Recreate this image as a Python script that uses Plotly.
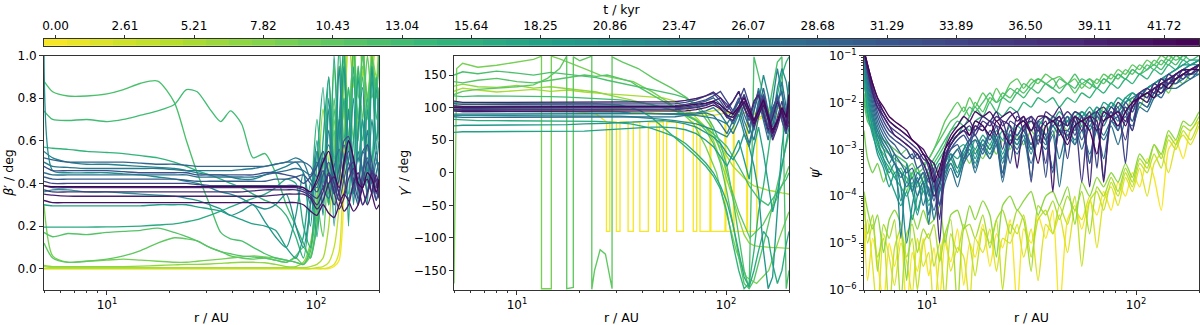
import math
import plotly.graph_objects as go
from plotly.colors import sample_colorscale

# ---------------- data ----------------
# snapshot times (kyr) of the plotted curves
t_kyr = [0.00, 1.74, 3.48, 5.22, 6.95, 8.69, 10.43, 11.30, 12.17, 13.04, 14.78, 16.52, 18.26, 19.99,
         21.73, 23.47, 25.21, 26.95, 28.69, 30.43, 32.16, 33.90, 35.64, 37.38, 39.12, 40.86, 42.60]
dt_snap = 0.8693          # spacing of the snapshots (kyr)
n_snap = 50               # number of colour bins of the colour bar
cbar_tick_labels = ["0.00", "2.61", "5.21", "7.82", "10.43", "13.04", "15.64", "18.25", "20.86",
                    "23.47", "26.07", "28.68", "31.29", "33.89", "36.50", "39.11", "41.72"]

# radius grid for beta' and gamma' (AU)
r_common = [5, 5.5, 6.5, 8, 10, 12, 14.5, 17.5, 21, 24, 27, 31, 35, 39, 44, 50, 57, 64, 72, 80,
            87, 94, 101, 108, 115, 122, 129, 136, 143, 151, 159, 167, 176, 185, 194, 200]

# ---- beta' (deg) ----
beta_t00 = [0,0,0,0,0,0,0,0,0,0, 0,0,0,0,0,0,0,0,0,0, 0,0,0,0,0,0.01,0.04,0.35,1.2,1.3, 1.1,1.25,1.3,1.2,1.3,1.2]
beta_t02 = [0,0,0,0,0,0,0,0,0,0, 0,0,0,0,0,0,0,0,0,0, 0,0,0,0,0.005,0.02,0.08,0.6,1.2,1.0, 1.3,1.1,1.3,1.2,1.25,1.3]
beta_t04 = [0,0,0,0,0,0,0,0,0,0, 0,0,0,0,0,0,0,0,0,0, 0,0,0.005,0.01,0.03,0.1,0.3,0.9,1.2,0.95, 1.3,1.05,1.2,0.9,1.1,1.2]
beta_t06 = [0.01,0.005,0.005,0.005,0.005,0.005,0.005,0.005,0.005,0.005, 0.005,0.005,0.005,0.005,0.005,0.005,0.005,0.005,0.005,0.005, 0.005,0.01,0.02,0.05,0.2,0.55,0.95,0.7,1.1,0.85, 1.2,0.9,1.15,0.95,1.1,1.0]
beta_t08 = [0.015,0.01,0.01,0.01,0.01,0.01,0.012,0.015,0.018,0.02, 0.02,0.022,0.025,0.028,0.03,0.03,0.028,0.02,0.01,0.01, 0.03,0.12,0.35,0.75,0.5,0.95,0.6,1.1,0.7,1.0, 0.65,1.05,0.8,1.0,0.9,1.1]
beta_t10 = [0.30,0.06,0.03,0.035,0.04,0.045,0.04,0.035,0.03,0.03, 0.035,0.04,0.045,0.05,0.055,0.06,0.055,0.05,0.04,0.03, 0.02,0.06,0.2,0.45,0.3,0.7,0.45,0.9,0.6,1.05, 0.8,0.95,0.7,1.0,0.85,0.95]
beta_t12 = [0.12,0.05,0.03,0.035,0.045,0.06,0.085,0.12,0.145,0.14, 0.13,0.1,0.08,0.06,0.05,0.045,0.05,0.04,0.03,0.05, 0.02,0.1,0.3,0.15,0.5,0.3,0.7,0.5,0.85,0.6, 0.95,0.7,1.0,0.8,0.9,0.75]
beta_t13 = [0.17,0.15,0.165,0.16,0.17,0.175,0.18,0.19,0.17,0.15, 0.13,0.1,0.08,0.07,0.06,0.055,0.05,0.04,0.03,0.06, 0.1,0.05,0.25,0.5,0.3,0.65,0.4,0.8,0.55,0.9, 0.7,1.0,0.8,0.95,0.85,1.0]
beta_t14 = [0.88,0.83,0.81,0.81,0.82,0.84,0.87,0.88,0.78,0.6, 0.45,0.3,0.17,0.14,0.13,0.1,0.07,0.05,0.04,0.03, 0.02,0.08,0.3,0.55,0.35,0.8,0.5,1.0,0.7,0.9, 0.6,1.05,0.75,0.95,0.8,1.0]
beta_t15 = [0.74,0.70,0.695,0.70,0.69,0.70,0.72,0.74,0.77,0.84, 0.83,0.75,0.69,0.74,0.68,0.52,0.54,0.45,0.3,0.2, 0.12,0.05,0.2,0.5,0.3,0.75,0.45,0.95,0.6,1.05, 0.7,0.9,0.55,1.0,0.7,0.85]
beta_t17 = [0.57,0.565,0.56,0.55,0.545,0.54,0.53,0.52,0.5,0.48, 0.46,0.44,0.42,0.4,0.38,0.35,0.32,0.3,0.25,0.15, 0.05,0.3,0.7,0.4,0.9,0.5,1.05,0.6,0.85,0.45, 0.95,0.6,0.8,0.4,0.9,0.7]
beta_t19 = [0.195,0.195,0.195,0.195,0.196,0.197,0.2,0.205,0.21,0.22, 0.23,0.25,0.27,0.29,0.31,0.33,0.35,0.38,0.42,0.4, 0.2,0.1,0.5,0.85,0.3,1.0,0.5,0.8,0.2,0.95, 0.5,0.7,0.3,0.9,0.6,0.8]
beta_t21 = [0.3,0.295,0.295,0.295,0.295,0.295,0.295,0.3,0.3,0.3, 0.29,0.28,0.27,0.25,0.23,0.21,0.2,0.18,0.1,0.05, 0.15,0.4,0.15,0.6,0.9,0.4,0.7,1.05,0.35,0.6, 0.9,0.4,0.75,0.5,0.85,0.6]
beta_t23 = [0.36,0.37,0.37,0.36,0.36,0.355,0.35,0.345,0.34,0.33, 0.32,0.3,0.28,0.25,0.27,0.3,0.22,0.15,0.1,0.25, 0.45,0.2,0.55,0.3,0.75,0.2,0.6,0.95,0.5,0.8, 0.3,0.7,0.45,0.95,0.55,0.8]
beta_t25 = [1.3,0.46,0.45,0.45,0.45,0.445,0.44,0.43,0.42,0.41, 0.4,0.38,0.36,0.35,0.33,0.3,0.28,0.3,0.35,0.2, 0.1,0.3,0.6,0.25,0.8,0.4,0.95,0.45,0.75,0.3, 0.65,0.85,0.4,0.7,0.5,0.6]
beta_t27 = [0.55,0.52,0.5,0.49,0.49,0.485,0.48,0.475,0.47,0.46, 0.45,0.44,0.44,0.43,0.42,0.42,0.44,0.46,0.48,0.5, 0.45,0.3,0.55,0.4,0.65,0.35,0.7,0.5,0.6,0.35, 0.55,0.45,0.65,0.4,0.5,0.45]
beta_t29 = [0.5,0.48,0.475,0.47,0.47,0.47,0.47,0.47,0.465,0.46, 0.46,0.46,0.46,0.46,0.465,0.47,0.48,0.49,0.5,0.52, 0.5,0.42,0.38,0.5,0.58,0.45,0.35,0.5,0.6,0.45, 0.4,0.55,0.5,0.35,0.45,0.5]
beta_t31 = [0.45,0.44,0.44,0.44,0.44,0.44,0.44,0.44,0.44,0.44, 0.43,0.43,0.43,0.43,0.43,0.43,0.44,0.45,0.46,0.47, 0.46,0.44,0.5,0.38,0.33,0.48,0.56,0.42,0.33,0.4, 0.52,0.47,0.36,0.42,0.55,0.4]
beta_t33 = [0.52,0.51,0.5,0.5,0.5,0.5,0.495,0.49,0.49,0.485, 0.48,0.48,0.48,0.48,0.48,0.48,0.48,0.49,0.5,0.5, 0.5,0.48,0.43,0.52,0.45,0.38,0.47,0.58,0.5,0.4, 0.42,0.55,0.58,0.45,0.38,0.45]
beta_t35 = [0.43,0.42,0.42,0.42,0.42,0.42,0.42,0.42,0.42,0.415, 0.41,0.41,0.41,0.41,0.41,0.41,0.41,0.42,0.42,0.43, 0.44,0.4,0.36,0.44,0.5,0.4,0.32,0.42,0.5,0.38, 0.3,0.45,0.52,0.4,0.32,0.38]
beta_t37 = [0.48,0.46,0.46,0.46,0.46,0.455,0.45,0.45,0.45,0.45, 0.44,0.44,0.44,0.44,0.44,0.44,0.45,0.45,0.44,0.43, 0.4,0.43,0.48,0.55,0.45,0.35,0.42,0.6,0.62,0.5, 0.37,0.44,0.58,0.5,0.35,0.42]
beta_t39 = [0.41,0.4,0.4,0.4,0.4,0.4,0.4,0.4,0.4,0.4, 0.395,0.39,0.39,0.39,0.39,0.39,0.39,0.39,0.39,0.39, 0.38,0.36,0.4,0.46,0.38,0.3,0.36,0.48,0.55,0.42, 0.33,0.4,0.5,0.44,0.32,0.4]
beta_t41 = [0.39,0.38,0.38,0.38,0.38,0.38,0.38,0.38,0.38,0.38, 0.38,0.38,0.38,0.38,0.38,0.38,0.38,0.38,0.38,0.38, 0.37,0.35,0.33,0.38,0.45,0.4,0.32,0.35,0.47,0.5, 0.4,0.3,0.36,0.46,0.42,0.35]
beta_t43 = [0.37,0.36,0.36,0.36,0.36,0.36,0.36,0.36,0.36,0.36, 0.36,0.36,0.36,0.36,0.36,0.365,0.37,0.37,0.37,0.37, 0.36,0.34,0.3,0.36,0.44,0.36,0.28,0.33,0.42,0.47, 0.38,0.3,0.35,0.45,0.4,0.33]
beta_t45 = [0.35,0.345,0.34,0.34,0.34,0.34,0.34,0.34,0.34,0.34, 0.34,0.34,0.34,0.34,0.34,0.34,0.34,0.345,0.35,0.35, 0.35,0.33,0.28,0.32,0.4,0.43,0.35,0.27,0.3,0.4, 0.45,0.37,0.3,0.36,0.44,0.38]
beta_t47 = [0.32,0.31,0.31,0.31,0.31,0.31,0.31,0.31,0.31,0.31, 0.31,0.31,0.31,0.31,0.31,0.31,0.31,0.31,0.31,0.31, 0.3,0.27,0.25,0.3,0.26,0.24,0.3,0.35,0.32,0.27, 0.3,0.38,0.42,0.35,0.28,0.3]
beta_t49 = [0.39,0.385,0.385,0.385,0.385,0.385,0.385,0.385,0.385,0.385, 0.385,0.385,0.385,0.385,0.385,0.385,0.385,0.385,0.385,0.385, 0.38,0.36,0.42,0.5,0.55,0.45,0.38,0.5,0.6,0.52, 0.4,0.38,0.45,0.42,0.36,0.42]

# ---- gamma' (deg) ----
gamma_r_t00 = [5, 8, 12, 18, 24, 26.8, 26.8, 27.8, 27.8, 29.9, 29.9, 31.1, 31.1, 34, 34, 36, 36, 38.7, 38.7,
               42.5, 42.5, 46.6, 46.6, 48, 48, 50.1, 50.1, 52, 52, 58, 58, 62.5, 62.5, 69.7, 69.7, 72.4, 72.4,
               75.1, 75.1, 83.8, 83.8, 84.6, 84.6, 98.9, 98.9, 99.8, 99.8, 108.4, 108.4, 109.3, 109.3,
               125.7, 125.7, 126.7, 126.7, 140.3, 140.3, 160, 180, 200]
gamma_t00 = [97, 98, 97, 95, 90, 78, -90, -90, 78, 78, -90, -90, 78, 78, -90, -90, 78, 78, -90,
             -90, 78, 78, -90, -90, 78, 78, -90, -90, 78, 78, -90, -90, 78, 78, -90, -90, 78,
             78, -90, -90, 78, 78, -90, -90, 78, 78, -90, -90, 78, 78, -90,
             -90, 78, 78, -90, -90, 80, 90, 85, 95]
gamma_t02 = [98,99,99,98,98,98,98,97,97,96, 95,94,93,92,92,91,90,90,89,88, 88,90,92,90,88,92,95,90,85,88, 92,95,90,88,92,95]
gamma_t04 = [103,102,102,102,102,102,102,101,101,100, 99,98,97,96,96,95,94,93,92,93, 95,97,93,89,95,100,96,90,95,100, 97,93,98,102,98,95]
gamma_t06 = [125,130,127,124,126,128,125,127,124,122, 121,120,119,118,117,115,110,100,85,70, 55,40,25,10,0,-8,-15,-20,-22,-25, -27,-28,-30,-31,-32,-33]
gamma_t08 = [133,136,132,131,134,130,132,129,127,124, 120,116,112,108,104,100,96,90,82,70, 50,20,-10,-40,-70,-95,-108,-112,-113,-114, -114,-115,-115,-115,-116,-116]
gamma_r_t10 = [5, 5.15, 5.5, 6.5, 8, 10, 12, 13.1, 13.1, 14.6, 14.6, 16, 18, 21, 25, 30, 36, 44, 52, 60,
               70, 80, 90, 100, 112, 125, 140, 160, 180, 200]
gamma_t10 = [-170, 160, 168, 162, 165, 170, 174, 179, -178, -178, 179, 175, 168, 160, 150, 145, 140, 125, 110, 95,
             75, 40, 0, -60, -120, -160, -170, -150, -100, -60]
gamma_r_t12 = [5, 5.5, 6.5, 8, 10, 12, 14, 16, 17.3, 17.3, 18.6, 18.6, 20, 22.8, 22.8, 23.5, 25, 26.5, 28.5, 28.5,
               32, 38, 45, 55, 65, 75, 85, 95, 105, 115, 130, 150, 175, 200]
gamma_t12 = [120, 125, 128, 130, 132, 135, 145, 160, 179, -178, -176, 178, 172, 179, -179, -150, -118, -125, -178, 178,
             170, 160, 145, 130, 115, 95, 70, 30, -20, -60, -100, -80, -40, 10]
gamma_t13 = [140,138,142,145,140,138,142,146,150,148, 150,145,140,130,120,110,100,90,80,65, 45,15,-30,-80,-130,-170,-178,-165,-140,-110, -80,-50,-20,10,40,60]
gamma_t14 = [150,155,152,156,153,150,154,151,149,146, 142,138,134,131,128,124,120,115,105,90, 70,45,10,-40,-100,-150,-178,178,150,120, 90,130,170,178,-178,-150]
gamma_t15 = [118,117,118,118,118,118,117,116,115,114, 113,112,110,108,105,100,95,88,80,70, 60,50,40,25,10,-5,-20,-30,-40,-45, -50,-40,-30,-20,-10,0]
gamma_t17 = [108,107,107,107,107,107,107,107,107,106, 105,104,100,95,85,70,55,40,25,10, -5,-25,-60,-110,-150,-178,-170,-120,-60,-20, 30,80,120,150,170,178]
gamma_t19 = [82,81,80,80,80,80,80,80,80,79, 78,77,75,72,68,62,55,45,30,15, 0,-20,-45,-80,-120,-160,-175,-150,-120,-90, -100,-140,-170,-150,-110,-90]
gamma_t21 = [62,63,63,63,63,63,64,64,64,65, 66,67,68,69,70,70,69,66,60,50, 40,25,10,30,50,20,-10,40,70,30, -20,-60,-30,10,50,70]
gamma_t23 = [72,73,73,73,73,73,74,74,75,75, 76,77,78,79,80,80,78,75,70,62, 55,45,30,20,35,60,40,10,-30,-120, -178,-160,-60,40,90,120]
gamma_t25 = [88,88,88,88,88,88,88,88,88,88, 88,87,86,85,84,82,80,78,75,70, 66,60,55,70,90,60,40,70,110,150, 120,80,130,160,140,110]
gamma_t27 = [95,94,94,94,94,94,94,94,94,94, 93,93,92,92,91,90,90,89,88,86, 84,80,75,90,110,80,60,95,130,100, 70,110,160,120,90,140]
gamma_t29 = [90,90,90,90,90,90,90,90,90,90, 90,90,90,90,90,90,90,91,92,95, 100,90,75,60,80,105,70,50,85,120, 90,60,100,140,100,75]
gamma_t31 = [86,85,85,85,85,85,85,85,85,85, 85,85,85,85,85,85,86,88,90,92, 88,75,60,80,100,70,45,75,110,80, 50,90,120,80,60,105]
gamma_t33 = [100,100,100,100,100,100,100,100,100,100, 100,100,100,100,100,100,101,103,106,110, 115,105,90,75,95,120,90,65,100,130, 95,70,110,125,85,95]
gamma_t35 = [98,97,97,97,97,97,97,97,97,97, 97,97,97,97,97,97,98,99,101,104, 108,100,85,95,115,90,70,95,120,85, 60,95,120,90,70,100]
gamma_t37 = [106,105,105,105,105,105,105,105,105,105, 105,105,105,105,105,105,106,108,112,118, 122,110,95,110,125,100,80,105,125,95, 70,100,115,80,60,90]
gamma_t39 = [103,102,102,102,102,102,102,102,102,102, 102,102,102,102,102,102,103,105,108,112, 118,125,110,95,110,130,105,80,100,120, 90,60,85,110,80,70]
gamma_t41 = [100,99,99,99,99,99,99,99,99,99, 99,99,99,99,99,99,100,101,103,106, 110,115,105,90,100,120,95,75,95,115, 85,55,75,100,70,90]
gamma_t43 = [97,96,96,96,96,96,96,96,96,96, 96,96,96,96,96,96,97,98,100,103, 108,100,85,80,95,110,90,70,90,110, 80,50,70,95,75,100]
gamma_t45 = [110,108,108,108,108,108,108,108,108,108, 108,108,108,108,108,108,109,111,114,118, 124,115,100,110,125,100,85,110,120,90, 65,85,110,90,65,80]
gamma_t47 = [95,94,94,94,94,94,94,94,94,94, 94,94,94,94,94,94,94,95,97,100, 104,98,88,85,98,108,92,75,88,105, 82,60,78,95,72,110]
gamma_t49 = [101,101,101,101,101,101,101,101,101,101, 101,101,101,101,101,101,102,103,105,107, 110,104,95,90,102,115,98,80,95,112, 88,65,80,100,85,120]

# ---- psi' (stored as log10 psi') ----
r_psi = [5, 5.2, 5.5, 5.8, 6.2, 6.6, 7, 7.5, 8, 8.5, 9, 9.6, 10.2, 10.8, 11.5, 12.2, 13, 14, 15, 16,
         17, 18.5, 20, 21.5, 23, 25, 27, 29, 31.5, 34, 37, 40, 43, 47, 51, 55, 60, 65, 70, 76,
         82, 89, 96, 104, 113, 122, 132, 143, 155, 168, 182, 200]
log10_psi_t00 = [-4.6,-5.8,-4.9,-5.4,-6.3,-5.0,-5.5,-4.8,-6.5,-5.2, -5.6,-4.9,-5.7,-5.1,-6.2,-5.0,-5.4,-4.7,-5.9,-5.0, -5.3,-4.6,-5.5,-4.8,-5.1,-4.5,-6.4,-4.7,-5.0,-4.4, -4.9,-4.3,-6.5,-4.5,-4.2,-4.7,-4.1,-4.4,-3.9,-4.3, -3.7,-4.0,-3.5,-3.8,-3.2,-3.6,-4.3,-3.0,-2.8,-3.2, -2.6,-2.4]
log10_psi_t02 = [-5.2,-4.5,-5.5,-6.5,-4.8,-5.3,-5.9,-5.0,-5.4,-6.1, -4.9,-5.5,-5.2,-6.5,-5.3,-4.8,-5.6,-5.1,-5.3,-6.3, -4.9,-5.2,-4.7,-5.6,-4.9,-5.0,-4.6,-5.3,-4.7,-5.8, -4.6,-4.8,-4.4,-5.2,-4.3,-4.5,-4.0,-5.1,-4.1,-3.8, -4.2,-3.6,-3.9,-3.4,-4.0,-3.3,-3.1,-3.5,-2.9,-2.7, -2.9,-2.5]
log10_psi_t04 = [-4.0,-5.0,-4.6,-5.3,-4.9,-6.5,-5.1,-4.7,-5.3,-4.9, -6.0,-5.0,-4.8,-5.5,-5.0,-6.2,-4.8,-5.2,-4.6,-5.0, -5.7,-4.7,-5.0,-4.5,-6.0,-4.6,-4.8,-4.4,-5.3,-4.5, -4.3,-4.8,-4.2,-4.6,-4.0,-5.5,-4.1,-3.9,-4.3,-3.7, -4.0,-3.5,-3.8,-3.3,-3.5,-3.1,-3.4,-2.8,-3.0,-2.6, -2.8,-2.4]
log10_psi_t06 = [-4.2,-4.8,-4.4,-5.6,-4.6,-4.9,-4.5,-6.3,-4.8,-4.6, -5.2,-4.7,-4.9,-4.6,-5.4,-4.8,-4.5,-6.4,-4.7,-4.6, -4.9,-4.4,-5.1,-4.5,-4.3,-4.8,-4.3,-4.5,-5.6,-4.2, -4.4,-4.1,-4.5,-4.0,-4.3,-3.9,-4.8,-3.8,-4.0,-3.6, -3.9,-3.4,-3.7,-3.2,-3.4,-2.9,-3.2,-2.7,-2.9,-2.5, -2.6,-2.3]
log10_psi_t08 = [-3.9,-4.3,-4.7,-4.4,-5.2,-4.5,-4.3,-4.6,-5.8,-4.4, -4.7,-4.3,-4.6,-4.5,-4.2,-5.0,-4.4,-4.3,-4.7,-4.2, -4.5,-4.1,-4.4,-5.3,-4.2,-4.0,-4.3,-4.1,-3.9,-4.4, -4.0,-3.9,-4.2,-3.8,-4.6,-3.7,-4.0,-3.6,-3.8,-3.5, -3.7,-3.3,-3.6,-3.1,-3.3,-2.9,-3.1,-2.6,-2.8,-2.4, -2.5,-2.2]
log10_psi_t10 = [-2.6,-3.2,-3.5,-3.3,-3.7,-3.4,-3.6,-3.5,-3.9,-3.5, -3.4,-3.7,-3.5,-3.6,-3.3,-3.5,-3.2,-3.4,-3.1,-3.3, -3.0,-3.2,-2.9,-3.1,-2.8,-3.0,-2.7,-2.9,-2.6,-2.8, -2.5,-2.7,-2.4,-2.6,-2.3,-2.5,-2.2,-2.4,-2.1,-2.3, -2.0,-2.2,-1.9,-2.1,-1.8,-1.9,-1.6,-1.8,-1.5,-1.6, -1.4,-1.3]
log10_psi_t12 = [-1.8,-2.2,-2.5,-2.7,-2.8,-2.9,-3.0,-3.1,-3.0,-3.2, -3.1,-3.3,-3.2,-3.0,-2.7,-2.4,-2.2,-2.0,-2.2,-1.9, -2.1,-1.8,-2.0,-1.7,-1.9,-1.6,-1.5,-1.7,-1.5,-1.6, -1.4,-1.5,-1.45,-1.6,-1.5,-1.7,-1.5,-1.6,-1.4,-1.5, -1.3,-1.4,-1.2,-1.3,-1.1,-1.2,-1.0,-1.1,-0.9,-1.0, -0.9,-0.8]
log10_psi_t13 = [-2.0,-2.4,-2.6,-2.8,-3.0,-3.1,-3.2,-3.3,-3.4,-3.3, -3.5,-3.4,-3.2,-3.0,-2.8,-2.6,-2.4,-2.3,-2.1,-2.3, -2.0,-2.2,-1.9,-2.0,-1.8,-1.9,-1.7,-1.8,-1.6,-1.5, -1.6,-1.5,-1.7,-1.6,-1.8,-1.6,-1.7,-1.5,-1.6,-1.4, -1.5,-1.3,-1.4,-1.2,-1.3,-1.1,-1.2,-1.0,-1.1,-1.0, -0.9,-0.9]
log10_psi_t14 = [-1.6,-2.0,-2.3,-2.6,-2.8,-2.9,-3.1,-3.2,-3.3,-3.6, -3.4,-3.7,-3.5,-3.3,-3.1,-2.9,-2.6,-2.5,-2.3,-2.1, -2.2,-2.0,-1.8,-2.0,-1.9,-1.7,-1.8,-1.6,-1.7,-1.5, -1.6,-1.7,-1.5,-1.6,-1.4,-1.6,-1.5,-1.7,-1.5,-1.6, -1.4,-1.5,-1.3,-1.4,-1.2,-1.3,-1.1,-1.2,-1.0,-1.1, -0.9,-1.0]
log10_psi_t15 = [-1.9,-2.3,-2.6,-2.9,-3.1,-3.3,-3.5,-3.4,-3.7,-3.5, -3.8,-3.6,-3.4,-3.2,-3.0,-2.8,-2.6,-2.4,-2.5,-2.3, -2.1,-2.3,-2.0,-2.2,-1.9,-2.0,-1.8,-1.9,-1.7,-1.8, -1.6,-1.7,-1.8,-1.6,-1.7,-1.5,-1.6,-1.7,-1.5,-1.6, -1.4,-1.5,-1.3,-1.4,-1.3,-1.2,-1.3,-1.1,-1.2,-1.0, -1.1,-1.0]
log10_psi_t17 = [-1.5,-2.0,-2.4,-2.7,-2.9,-3.1,-3.3,-3.5,-3.6,-3.8, -3.7,-3.9,-3.6,-3.4,-3.2,-3.0,-2.8,-2.7,-2.5,-2.6, -2.4,-2.3,-2.4,-2.2,-2.3,-2.1,-2.2,-2.0,-2.1,-1.9, -2.0,-1.9,-2.1,-1.9,-2.0,-1.8,-1.9,-1.7,-1.8,-1.6, -1.7,-1.5,-1.6,-1.4,-1.5,-1.3,-1.4,-1.2,-1.3,-1.1, -1.2,-1.1]
log10_psi_t19 = [-1.5,-2.1,-2.5,-2.9,-3.2,-3.4,-3.6,-3.8,-4.0,-3.7, -4.3,-3.9,-4.1,-3.8,-3.6,-3.4,-3.2,-3.0,-2.9,-3.1, -2.8,-2.9,-2.7,-2.8,-2.6,-2.7,-2.5,-2.6,-2.4,-2.5, -2.3,-2.4,-2.2,-2.4,-2.3,-2.2,-2.3,-2.1,-2.2,-2.0, -2.1,-1.9,-1.8,-1.9,-1.7,-1.6,-1.5,-1.4,-1.3,-1.2, -1.1,-1.1]
log10_psi_t21 = [-1.4,-2.2,-2.7,-3.0,-3.3,-3.6,-3.9,-4.2,-3.9,-4.5, -4.0,-3.7,-4.2,-3.9,-3.6,-3.3,-3.1,-3.2,-3.0,-2.8, -3.0,-2.7,-2.9,-2.6,-2.8,-2.5,-2.7,-2.5,-2.6,-2.4, -2.5,-2.3,-2.5,-2.4,-2.2,-2.3,-2.1,-2.3,-2.0,-2.1, -1.9,-2.0,-1.8,-1.9,-1.7,-1.6,-1.5,-1.6,-1.4,-1.3, -1.2,-1.1]
log10_psi_t23 = [-1.3,-1.9,-2.6,-3.1,-3.4,-3.8,-3.5,-4.1,-3.7,-3.9, -4.4,-3.8,-3.6,-4.0,-3.7,-3.4,-3.2,-3.5,-3.1,-2.9, -3.2,-2.8,-3.0,-2.7,-3.1,-2.7,-2.8,-2.6,-3.0,-2.5, -2.7,-2.4,-2.6,-2.3,-2.5,-2.2,-2.4,-2.1,-2.3,-2.0, -2.2,-1.9,-2.0,-1.8,-1.7,-1.6,-1.5,-1.4,-1.3,-1.2, -1.2,-1.1]
log10_psi_t25 = [-1.2,-1.8,-2.4,-2.8,-3.2,-3.5,-3.3,-3.8,-5.0,-4.2, -3.7,-3.5,-4.0,-3.6,-3.9,-3.5,-3.3,-3.6,-3.2,-3.0, -3.3,-2.9,-3.1,-2.8,-3.2,-2.8,-2.9,-2.7,-3.1,-2.6, -2.8,-2.5,-2.7,-2.4,-2.6,-2.3,-2.5,-2.2,-2.4,-2.1, -2.2,-2.0,-1.9,-1.8,-1.7,-1.6,-1.5,-1.5,-1.4,-1.3, -1.2,-1.2]
log10_psi_t27 = [-1.1,-1.7,-2.3,-2.7,-3.0,-3.3,-3.1,-4.9,-3.3,-3.9, -3.5,-3.7,-4.6,-3.6,-3.3,-3.5,-3.1,-3.4,-3.0,-2.8, -3.1,-2.8,-3.0,-2.7,-3.3,-2.7,-2.9,-2.6,-2.9,-2.5, -2.8,-2.5,-2.7,-2.4,-2.9,-2.4,-2.6,-2.3,-2.5,-2.2, -2.4,-2.1,-2.2,-1.9,-1.8,-1.7,-1.6,-1.5,-1.5,-1.4, -1.3,-1.3]
log10_psi_t29 = [-1.0,-1.6,-2.2,-2.6,-2.9,-3.1,-3.3,-3.6,-3.4,-3.9, -3.6,-4.2,-3.8,-4.5,-3.9,-3.6,-3.3,-3.6,-3.2,-3.0, -3.4,-2.9,-3.2,-2.8,-3.5,-2.8,-3.0,-2.7,-3.6,-2.7, -2.9,-2.6,-3.2,-2.6,-2.8,-2.5,-3.3,-2.5,-2.7,-2.4, -2.6,-2.2,-2.4,-2.0,-2.1,-1.8,-1.7,-1.6,-1.6,-1.5, -1.4,-1.4]
log10_psi_t31 = [-1.0,-1.5,-2.1,-2.5,-2.8,-3.0,-3.3,-3.5,-3.8,-3.6, -4.0,-3.7,-4.4,-3.8,-4.2,-3.7,-3.4,-3.8,-3.3,-3.1, -3.5,-3.0,-3.2,-2.9,-3.7,-2.9,-3.1,-2.8,-3.3,-2.8, -3.0,-2.7,-3.8,-2.7,-2.9,-2.6,-3.1,-2.6,-2.8,-2.5, -2.9,-2.4,-2.5,-2.1,-2.2,-1.9,-1.8,-1.7,-1.7,-1.6, -1.5,-1.4]
log10_psi_t33 = [-0.9,-1.4,-2.0,-2.4,-2.7,-2.9,-3.1,-3.3,-3.5,-3.4, -3.7,-3.5,-3.9,-4.3,-3.8,-3.4,-3.2,-3.0,-3.3,-2.9, -2.8,-3.1,-2.7,-2.9,-3.5,-2.7,-2.8,-2.6,-3.0,-2.6, -2.8,-3.4,-2.6,-2.7,-2.5,-3.0,-2.5,-2.6,-3.2,-2.4, -2.5,-2.3,-2.6,-2.0,-2.1,-1.8,-1.9,-1.6,-1.5,-1.4, -1.5,-1.3]
log10_psi_t35 = [-0.9,-1.4,-1.9,-2.3,-2.6,-2.8,-2.9,-3.1,-3.2,-3.1, -3.4,-3.3,-3.6,-4.1,-3.5,-3.2,-3.0,-2.9,-3.2,-2.8, -2.7,-3.0,-2.6,-2.8,-3.6,-2.6,-2.7,-2.5,-2.9,-2.5, -2.7,-3.5,-2.6,-2.6,-2.4,-2.8,-2.4,-2.5,-3.6,-2.4, -2.3,-2.1,-2.4,-1.9,-2.0,-1.7,-1.8,-1.5,-1.6,-1.4, -1.3,-1.3]
log10_psi_t37 = [-0.9,-1.3,-1.8,-2.2,-2.5,-2.7,-2.8,-2.9,-3.0,-3.2, -3.1,-3.4,-3.7,-3.4,-4.2,-3.3,-3.0,-2.8,-2.7,-2.9, -2.6,-2.5,-2.8,-2.5,-2.6,-3.3,-2.5,-2.4,-2.6,-2.4, -3.6,-2.4,-2.5,-2.3,-2.7,-2.3,-3.3,-2.3,-2.4,-2.2, -2.6,-2.0,-2.2,-1.8,-1.9,-1.6,-1.7,-1.5,-1.4,-1.3, -1.4,-1.2]
log10_psi_t39 = [-0.9,-1.3,-1.8,-2.1,-2.4,-2.6,-2.7,-2.8,-2.9,-3.0, -3.2,-3.1,-3.4,-3.8,-3.5,-3.1,-2.9,-2.7,-2.6,-2.8, -2.5,-2.6,-2.4,-2.5,-3.0,-2.4,-2.5,-2.3,-3.7,-2.4, -2.3,-2.5,-2.3,-3.2,-2.3,-2.4,-2.2,-3.4,-2.2,-2.3, -2.1,-3.3,-2.0,-1.9,-1.7,-1.8,-1.5,-1.6,-1.4,-1.5, -1.3,-1.2]
log10_psi_t41 = [-0.9,-1.3,-1.7,-2.0,-2.3,-2.5,-2.6,-2.7,-2.8,-2.9, -3.0,-3.2,-3.3,-3.6,-4.5,-3.2,-2.9,-2.7,-2.6,-2.5, -2.7,-2.4,-2.5,-2.3,-2.4,-2.9,-2.3,-2.4,-2.3,-2.5, -3.3,-2.3,-2.4,-2.2,-2.4,-3.7,-2.3,-2.2,-2.4,-2.1, -2.3,-2.8,-2.0,-1.8,-1.9,-1.6,-1.7,-1.4,-1.5,-1.3, -1.4,-1.2]
log10_psi_t43 = [-0.9,-1.2,-1.7,-2.0,-2.2,-2.4,-2.5,-2.6,-2.7,-2.8, -2.9,-3.1,-3.2,-3.5,-5.0,-3.3,-2.8,-2.6,-2.5,-2.4, -2.6,-2.3,-2.4,-2.2,-2.5,-2.3,-2.2,-2.6,-2.3,-2.9, -2.2,-2.3,-2.1,-2.5,-2.2,-2.3,-3.8,-2.2,-2.1,-2.3, -2.0,-2.2,-2.6,-1.8,-1.7,-1.8,-1.5,-1.6,-1.4,-1.3, -1.3,-1.2]
log10_psi_t45 = [-0.9,-1.3,-1.8,-2.1,-2.3,-2.5,-2.7,-2.8,-2.9,-3.0, -3.1,-3.3,-3.6,-4.0,-3.7,-3.2,-2.9,-2.7,-2.6,-2.7, -2.5,-2.6,-2.4,-2.7,-2.4,-2.5,-3.4,-2.5,-2.4,-2.6, -2.4,-3.9,-2.4,-2.5,-2.3,-2.6,-2.3,-2.4,-3.7,-2.3, -2.2,-2.4,-2.1,-1.9,-2.0,-1.7,-1.8,-1.6,-1.5,-1.4, -1.4,-1.3]
log10_psi_t47 = [-0.9,-1.2,-1.6,-1.9,-2.2,-2.4,-2.5,-2.6,-2.7,-2.8, -2.9,-3.0,-3.2,-3.3,-3.6,-3.0,-2.7,-2.5,-2.3,-2.4, -2.2,-2.3,-2.2,-2.4,-2.3,-2.2,-2.4,-2.3,-2.6,-2.3, -2.3,-2.4,-2.3,-2.8,-2.3,-2.4,-2.3,-2.6,-2.2,-2.3, -2.2,-2.5,-2.1,-1.9,-1.8,-1.7,-1.6,-1.5,-1.4,-1.3, -1.3,-1.2]
log10_psi_t49 = [-0.9,-1.2,-1.6,-1.9,-2.1,-2.3,-2.4,-2.5,-2.6,-2.8, -2.9,-3.1,-3.3,-3.7,-3.4,-3.0,-2.8,-2.6,-2.5,-2.7, -2.4,-2.5,-2.7,-2.4,-2.6,-2.9,-2.5,-2.4,-2.7,-3.3, -2.5,-2.4,-2.6,-2.9,-2.5,-2.4,-2.6,-3.1,-2.4,-2.3, -2.5,-2.2,-2.0,-1.9,-1.8,-1.9,-1.6,-1.7,-1.5,-1.4, -1.3,-1.3]

beta_series = [beta_t00, beta_t02, beta_t04, beta_t06, beta_t08, beta_t10, beta_t12, beta_t13, beta_t14,
               beta_t15, beta_t17, beta_t19, beta_t21, beta_t23, beta_t25, beta_t27, beta_t29, beta_t31,
               beta_t33, beta_t35, beta_t37, beta_t39, beta_t41, beta_t43, beta_t45, beta_t47, beta_t49]
gamma_series = [(gamma_r_t00, gamma_t00), (r_common, gamma_t02), (r_common, gamma_t04), (r_common, gamma_t06),
                (r_common, gamma_t08), (gamma_r_t10, gamma_t10), (gamma_r_t12, gamma_t12),
                (r_common, gamma_t13), (r_common, gamma_t14), (r_common, gamma_t15), (r_common, gamma_t17),
                (r_common, gamma_t19), (r_common, gamma_t21), (r_common, gamma_t23), (r_common, gamma_t25),
                (r_common, gamma_t27), (r_common, gamma_t29), (r_common, gamma_t31), (r_common, gamma_t33),
                (r_common, gamma_t35), (r_common, gamma_t37), (r_common, gamma_t39), (r_common, gamma_t41),
                (r_common, gamma_t43), (r_common, gamma_t45), (r_common, gamma_t47), (r_common, gamma_t49)]
psi_series = [log10_psi_t00, log10_psi_t02, log10_psi_t04, log10_psi_t06, log10_psi_t08, log10_psi_t10,
              log10_psi_t12, log10_psi_t13, log10_psi_t14, log10_psi_t15, log10_psi_t17, log10_psi_t19,
              log10_psi_t21, log10_psi_t23, log10_psi_t25, log10_psi_t27, log10_psi_t29, log10_psi_t31,
              log10_psi_t33, log10_psi_t35, log10_psi_t37, log10_psi_t39, log10_psi_t41, log10_psi_t43,
              log10_psi_t45, log10_psi_t47, log10_psi_t49]

# ---------------- styling ----------------
FONT = "DejaVu Sans"
AX_COLOR = "#333333"
LINE_W = 1.35

bin_colors = sample_colorscale("Viridis", [1 - (k + 0.5) / n_snap for k in range(n_snap)])
cb_lo = -0.5 * dt_snap
cb_hi = (n_snap - 0.5) * dt_snap


def color_for(t):
    k = int((t - cb_lo) / (cb_hi - cb_lo) * n_snap)
    return bin_colors[max(0, min(n_snap - 1, k))]


fig = go.Figure()

for t, ys in zip(t_kyr, beta_series):
    fig.add_trace(go.Scatter(x=r_common, y=ys, mode="lines", xaxis="x", yaxis="y",
                             line=dict(color=color_for(t), width=LINE_W, shape="spline", smoothing=0.7),
                             showlegend=False, hoverinfo="skip"))
for t, (rs, ys) in zip(t_kyr, gamma_series):
    fig.add_trace(go.Scatter(x=rs, y=ys, mode="lines", xaxis="x2", yaxis="y2",
                             line=dict(color=color_for(t), width=LINE_W),
                             showlegend=False, hoverinfo="skip"))
for t, ls in zip(t_kyr, psi_series):
    fig.add_trace(go.Scatter(x=r_psi, y=[10 ** v for v in ls], mode="lines", xaxis="x3", yaxis="y3",
                             line=dict(color=color_for(t), width=LINE_W, shape="spline", smoothing=0.6),
                             showlegend=False, hoverinfo="skip"))

# colour bar drawn as a one-row heat map on its own axis (ticks above, as in the reference)
fig.add_trace(go.Heatmap(z=[list(range(n_snap))], x0=0.0, dx=dt_snap, y=[0],
                         colorscale=[[k / (n_snap - 1), bin_colors[k]] for k in range(n_snap)],
                         zmin=0, zmax=n_snap - 1, showscale=False, xaxis="x4", yaxis="y4",
                         hoverinfo="skip"))

# ---------------- layout ----------------
W, H = 1200, 325
ML, MR, MT, MB = 44, 1, 0, 35
plot_w = W - ML - MR
plot_h = H - MT - MB
panel_top_px = 48
panel_top = (plot_h - panel_top_px) / plot_h
cbar_dom = [(plot_h - 38) / plot_h, (plot_h - 31) / plot_h]


def px_x(px):
    return (px - ML) / plot_w


doms = [[px_x(44), px_x(379)], [px_x(454), px_x(789)], [px_x(864), px_x(1199)]]

tick_font = dict(family=FONT, size=12, color="black")
axis_common = dict(showline=True, linecolor=AX_COLOR, linewidth=1, mirror=True, ticks="outside",
                   ticklen=4, tickwidth=1, tickcolor=AX_COLOR, showgrid=False, zeroline=False,
                   tickfont=tick_font)

r_min, r_max = 5, 200
x_minor = [5, 6, 7, 8, 9, 20, 30, 40, 50, 60, 70, 80, 90, 200]


def xaxis(dom, anchor):
    return dict(domain=dom, anchor=anchor, type="log", range=[math.log10(r_min), math.log10(r_max)],
                tickvals=[10, 100], ticktext=["10<sup>1</sup>", "10<sup>2</sup>"],
                minor=dict(ticks="outside", ticklen=2, tickwidth=1, tickcolor=AX_COLOR,
                           tickvals=x_minor, showgrid=False),
                **axis_common)


beta_ticks = [0.0, 0.2, 0.4, 0.6, 0.8, 1.0]
gamma_ticks = [-150, -100, -50, 0, 50, 100, 150]
psi_exps = [-6, -5, -4, -3, -2, -1]
psi_minor = [m * 10 ** e for e in range(-6, -1) for m in range(2, 10)]

fig.update_layout(
    width=W, height=H,
    margin=dict(l=ML, r=MR, t=MT, b=MB),
    paper_bgcolor="white", plot_bgcolor="white",
    font=dict(family=FONT, size=12, color="black"),
    showlegend=False,
    xaxis=xaxis(doms[0], "y"),
    xaxis2=xaxis(doms[1], "y2"),
    xaxis3=xaxis(doms[2], "y3"),
    yaxis=dict(domain=[0, panel_top], anchor="x", range=[-0.1, 1.0], tickvals=beta_ticks,
               ticktext=[f"{v:.1f}" for v in beta_ticks], **axis_common),
    yaxis2=dict(domain=[0, panel_top], anchor="x2", range=[-180, 180], tickvals=gamma_ticks,
                ticktext=[str(v).replace("-", "\u2212") for v in gamma_ticks], **axis_common),
    yaxis3=dict(domain=[0, panel_top], anchor="x3", type="log", range=[-6, -1],
                tickvals=[10 ** e for e in psi_exps],
                ticktext=[f"10<sup>\u2212{abs(e)}</sup>" for e in psi_exps],
                minor=dict(ticks="outside", ticklen=2, tickwidth=1, tickcolor=AX_COLOR,
                           tickvals=psi_minor, showgrid=False),
                **axis_common),
    xaxis4=dict(domain=[0, 1], anchor="y4", range=[cb_lo, cb_hi], side="top",
                tickvals=[float(s) for s in cbar_tick_labels], ticktext=cbar_tick_labels,
                ticks="outside", ticklen=3, tickwidth=1, tickcolor=AX_COLOR, tickfont=tick_font,
                showline=True, linecolor=AX_COLOR, linewidth=1, mirror=True,
                showgrid=False, zeroline=False,
                title=dict(text="t / kyr", standoff=1, font=dict(family=FONT, size=12.5, color="black"))),
    yaxis4=dict(domain=cbar_dom, anchor="x4", range=[-0.5, 0.5], showticklabels=False, ticks="",
                showline=True, linecolor=AX_COLOR, linewidth=1, mirror=True,
                showgrid=False, zeroline=False),
)

label_font = dict(family=FONT, size=12.5, color="black")
annotations = []
for dom in doms:
    annotations.append(dict(text="r / AU", x=(dom[0] + dom[1]) / 2, y=(plot_h - 318 + MT) / plot_h,
                            xref="paper", yref="paper", showarrow=False, xanchor="center",
                            yanchor="middle", font=label_font))
for txt, px in [("<i>\u03b2</i>\u2032 / deg", 9), ("<i>\u03b3</i>\u2032 / deg", 404), ("<i>\u03c8</i>\u2032", 815)]:
    annotations.append(dict(text=txt, x=px_x(px), y=panel_top / 2, xref="paper", yref="paper",
                            showarrow=False, xanchor="center", yanchor="middle", textangle=-90,
                            font=label_font))
fig.update_layout(annotations=annotations)

fig.write_html("out.html", config={"displayModeBar": False},
               post_script="document.body.style.margin='0';")
